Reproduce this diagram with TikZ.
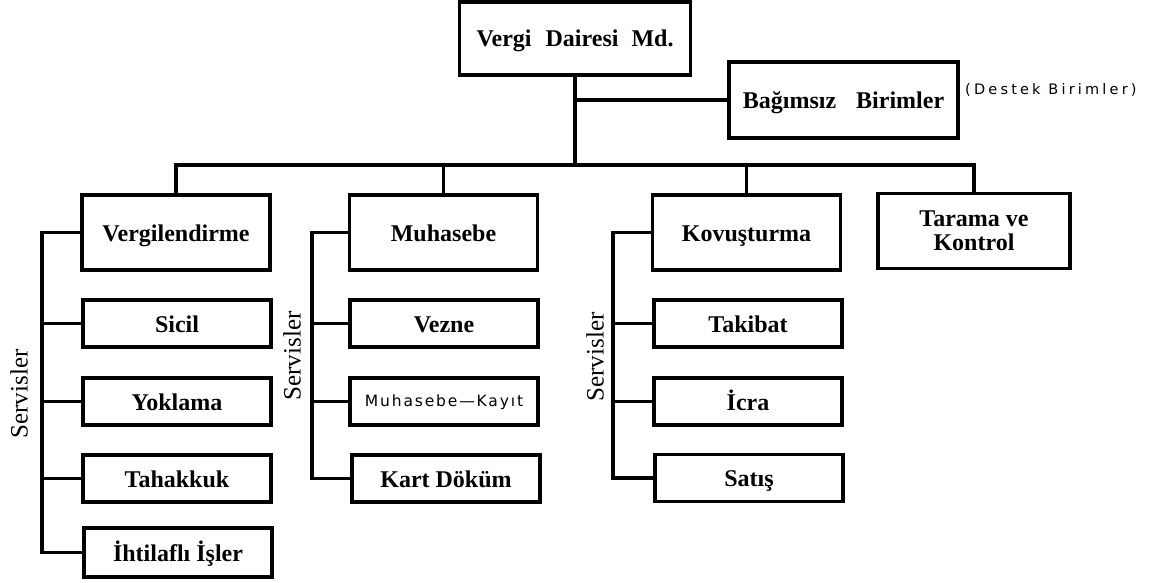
\documentclass[tikz,border=0pt]{standalone}
\usepackage{fontspec}
\setmainfont{Liberation Serif}
\newfontfamily\sansw[LetterSpace=22]{DejaVu Sans}
\newfontfamily\sanswb[LetterSpace=12]{DejaVu Sans}
\begin{document}
\begin{tikzpicture}[x=1pt,y=-1pt,
  lbox/.style={draw, line width=3.2pt, inner sep=0pt, minimum width=188pt, minimum height=75pt,
    font=\fontsize{24}{24}\selectfont\bfseries, align=center},
  one/.style={text height=20pt, text depth=3pt},
  sbox/.style={draw, line width=3.2pt, inner sep=0pt, minimum width=188pt, minimum height=47pt,
    font=\fontsize{24}{24}\selectfont\bfseries, one},
  svc/.style={rotate=90, inner sep=0pt, font=\fontsize{25}{26}\selectfont},
  conn/.style={line width=3.2pt}]
\useasboundingbox (0,0) rectangle (1156,583);
% top
\node[lbox, one, minimum width=231pt, minimum height=73pt] (top) at (575,38.5) {Vergi\hspace{14pt}Dairesi\hspace{13pt}Md.};
\node[lbox, one, minimum width=229pt, minimum height=76pt] (bag) at (843.5,100) {Bağımsız\hspace{20pt}Birimler};
\node[anchor=west, inner sep=0pt, font=\sansw\fontsize{14.5}{16}\selectfont] (destek) at (965,90) {(Destek Birimler)};
% level 2
\node[lbox, one] (verg) at (176,232.5) {Vergilendirme};
\node[lbox, one] (muh) at (443.5,232.5) {Muhasebe};
\node[lbox, one] (kov) at (746.5,232.5) {Kovuşturma};
\node[lbox, minimum width=192pt, font=\fontsize{24}{24}\selectfont\bfseries] (tar) at (974,231) {Tarama ve\\Kontrol};
% bus
\coordinate (bus) at (575,165);
\draw[conn] (top.south) -- (bus);
\draw[conn] (bag.west) -- (bag.west -| top.south);
\draw[conn] (verg.north) |- (bus) -| (tar.north);
\draw[conn] (muh.north) -- (muh.north |- bus);
\draw[conn] (kov.north) -- (kov.north |- bus);
% column 1
\node[sbox] (sicil) at (177,323.5) {Sicil};
\node[sbox] (yok) at (177,401.5) {Yoklama};
\node[sbox] (tah) at (177,478.5) {Tahakkuk};
\node[sbox, minimum height=49pt] (iht) at (178,552.5) {İhtilaflı İşler};
\coordinate (sp1) at (42,0);
\draw[conn] (verg.west) -| (sp1 |- iht.west) -- (iht.west);
\draw[conn] (sicil.west) -- (sicil.west -| sp1);
\draw[conn] (yok.west) -- (yok.west -| sp1);
\draw[conn] (tah.west) -- (tah.west -| sp1);
\node[svc] (sv1) at (19,394) {Servisler};
% column 2
\node[sbox] (vez) at (444,323.5) {Vezne};
\node[sbox, font=\sanswb\fontsize{15.5}{16}\selectfont, text height=12pt, text depth=2pt] (kay) at (444,401.5) {Muhasebe—Kayıt};
\node[sbox] (kart) at (446,478.5) {Kart Döküm};
\coordinate (sp2) at (312,0);
\draw[conn] (muh.west) -| (sp2 |- kart.west) -- (kart.west);
\draw[conn] (vez.west) -- (vez.west -| sp2);
\draw[conn] (kay.west) -- (kay.west -| sp2);
\node[svc] (sv2) at (292,356) {Servisler};
% column 3
\node[sbox] (tak) at (748,323.5) {Takibat};
\node[sbox] (icra) at (748,401.5) {İcra};
\node[sbox] (sat) at (749,478) {Satış};
\coordinate (sp3) at (613,0);
\draw[conn] (kov.west) -| (sp3 |- sat.west) -- (sat.west);
\draw[conn] (tak.west) -- (tak.west -| sp3);
\draw[conn] (icra.west) -- (icra.west -| sp3);
\node[svc] (sv3) at (595,357) {Servisler};
\end{tikzpicture}
\end{document}
